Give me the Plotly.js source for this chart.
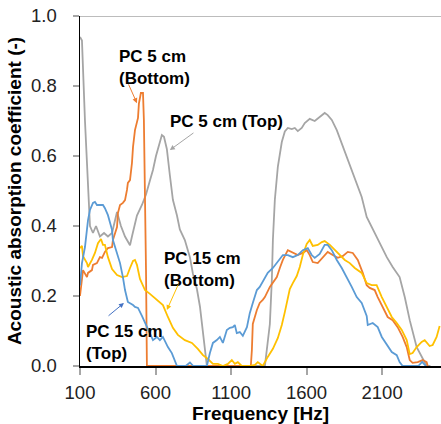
<!DOCTYPE html>
<html>
<head>
<meta charset="utf-8">
<script src="https://cdn.plot.ly/plotly-3.0.1.min.js"></script>
<style>html,body{margin:0;padding:0;background:#fff;}#chart{width:441px;height:424px;}</style>
</head>
<body>
<div id="chart"></div>
<script>
// PC 5 cm (Top) - gray
const topFreq5 = [100,113,133,153,166,186,206,232,259,285,312,345,371,398,431,444,477,510,537,563,583,603,629,642,656,675,695,715,742,761,794,828,847,874,894,914,940,1000,1100,1200,1300,1324,1357,1370,1377,1390,1410,1436,1456,1476,1502,1522,1542,1568,1588,1621,1654,1687,1720,1740,1767,1800,1833,1866,1899,1932,1965,1998,2031,2064,2084,2131,2170,2216,2250,2283,2329,2362,2382,2395,2420];
const topVal5  = [0.94,0.93,0.70,0.50,0.40,0.38,0.40,0.37,0.38,0.37,0.38,0.44,0.40,0.37,0.345,0.37,0.43,0.46,0.49,0.53,0.56,0.60,0.645,0.66,0.655,0.62,0.545,0.475,0.43,0.39,0.36,0.31,0.265,0.22,0.17,0.10,0,0,0,0,0,0,0.12,0.245,0.36,0.475,0.57,0.64,0.67,0.68,0.677,0.68,0.671,0.68,0.694,0.706,0.70,0.711,0.723,0.717,0.703,0.674,0.637,0.597,0.56,0.523,0.483,0.426,0.397,0.369,0.351,0.311,0.283,0.254,0.197,0.131,0.054,0.026,0.009,0,0];

// PC 5 cm (Bottom) - orange
const botFreq5 = [100,113,120,146,153,179,186,212,232,246,265,285,312,318,331,345,351,365,384,398,411,417,431,444,451,464,484,490,503,517,523,530,537,543,700,900,1100,1231,1238,1244,1271,1290,1310,1324,1357,1377,1403,1423,1443,1476,1509,1542,1575,1601,1621,1641,1674,1707,1740,1773,1806,1839,1873,1906,1939,1972,1998,2018,2051,2071,2098,2117,2137,2170,2203,2236,2263,2283,2302,2336,2369,2395,2402];
const botVal5  = [0.20,0.254,0.274,0.254,0.266,0.274,0.289,0.294,0.311,0.309,0.326,0.337,0.34,0.36,0.38,0.397,0.437,0.46,0.466,0.474,0.503,0.523,0.531,0.58,0.626,0.674,0.709,0.75,0.78,0.78,0.703,0.511,0.274,0,0,0,0,0,0.046,0.12,0.16,0.18,0.189,0.197,0.226,0.237,0.254,0.28,0.303,0.331,0.323,0.317,0.323,0.331,0.317,0.297,0.294,0.309,0.326,0.317,0.309,0.314,0.326,0.323,0.303,0.266,0.231,0.223,0.217,0.197,0.174,0.154,0.14,0.131,0.111,0.083,0.054,0.017,0.009,0.011,0.017,0.011,0];

// PC 15 cm (Bottom) - yellow
const botFreq15 = [100,113,120,146,153,179,199,219,239,252,265,285,312,345,378,411,431,451,464,477,497,530,563,596,629,649,682,715,748,794,841,880,914,947,980,1013,1046,1079,1105,1125,1145,1171,1224,1258,1277,1310,1343,1377,1410,1436,1456,1476,1489,1509,1535,1555,1575,1601,1621,1641,1674,1701,1720,1754,1787,1820,1853,1886,1919,1965,1998,2031,2064,2098,2131,2164,2197,2230,2263,2283,2302,2329,2362,2382,2415,2435,2461,2481];
const botVal15  = [0.337,0.343,0.314,0.294,0.283,0.303,0.323,0.351,0.363,0.346,0.346,0.311,0.277,0.26,0.254,0.257,0.28,0.30,0.303,0.289,0.249,0.217,0.206,0.194,0.183,0.174,0.14,0.109,0.089,0.074,0.066,0.049,0.031,0.02,0.006,0.006,0,0.006,0.017,0.006,0.011,0,0,0.003,0.011,0,0.026,0.049,0.08,0.117,0.154,0.197,0.22,0.237,0.257,0.283,0.317,0.349,0.36,0.343,0.346,0.354,0.357,0.346,0.331,0.317,0.303,0.294,0.28,0.266,0.237,0.231,0.231,0.197,0.166,0.14,0.123,0.103,0.074,0.034,0.037,0.054,0.069,0.074,0.057,0.06,0.083,0.114];

// PC 15 cm (Top) - blue
const topFreq15 = [100,113,133,146,153,166,186,199,212,232,252,265,285,298,312,318,345,365,384,398,417,431,451,464,484,510,530,563,583,609,629,649,682,708,728,742,800,828,850,940,960,980,1006,1026,1046,1072,1092,1112,1125,1138,1158,1178,1205,1224,1244,1271,1290,1324,1343,1377,1410,1443,1476,1509,1542,1575,1608,1634,1654,1687,1720,1740,1767,1800,1833,1866,1899,1932,1965,1998,2005,2038,2071,2098,2131,2164,2197,2216,2236,2340,2365,2390];
const topVal15  = [0.23,0.294,0.34,0.389,0.417,0.446,0.466,0.469,0.46,0.46,0.46,0.451,0.431,0.411,0.389,0.36,0.323,0.294,0.254,0.217,0.183,0.18,0.174,0.169,0.166,0.143,0.123,0.094,0.074,0.083,0.074,0.083,0.054,0.037,0.017,0,0,0.01,0,0,0.037,0.066,0.074,0.083,0.066,0.103,0.109,0.111,0.117,0.094,0.097,0.086,0.111,0.151,0.18,0.217,0.226,0.254,0.266,0.28,0.297,0.317,0.317,0.311,0.317,0.331,0.337,0.317,0.309,0.32,0.346,0.346,0.331,0.303,0.28,0.254,0.226,0.197,0.18,0.143,0.117,0.123,0.111,0.083,0.06,0.04,0.031,0.011,0,0,0.012,0];

const seriesNames = ['PC 5 cm (Top)','PC 5 cm (Bottom)','PC 15 cm (Bottom)','PC 15 cm (Top)'];
const xTickVals = [100,600,1100,1600,2100];
const yTickVals = [0,0.2,0.4,0.6,0.8,1.0];

const FONT = '"Liberation Sans", Arial, sans-serif';
const lw = 1.8;
const traces = [
  {x: topFreq5, y: topVal5, name: seriesNames[0], color: '#a5a5a5'},
  {x: botFreq5, y: botVal5, name: seriesNames[1], color: '#ed7d31'},
  {x: botFreq15, y: botVal15, name: seriesNames[2], color: '#ffc000'},
  {x: topFreq15, y: topVal15, name: seriesNames[3], color: '#5b9bd5'}
].map(s => ({x: s.x, y: s.y, name: s.name, type: 'scatter', mode: 'lines',
  line: {color: s.color, width: lw}, hoverinfo: 'skip'}));

function label(text, x, y) {
  return {text: '<b>' + text.replace('<br>', '</b><br><b>') + '</b>', x: x, y: y, xref: 'x', yref: 'y', xanchor: 'left', yanchor: 'middle',
    align: 'left', showarrow: false, font: {family: FONT, size: 17, color: '#000'}};
}
function arrow(ax, ay, x, y, color) {
  return {text: '', x: x, y: y, ax: ax, ay: ay, axref: 'x', ayref: 'y', xref: 'x', yref: 'y',
    showarrow: true, arrowhead: 2, arrowsize: 1, arrowwidth: 1, arrowcolor: color};
}

const layout = {
  width: 441, height: 424,
  margin: {l: 80, r: 0, t: 16, b: 58},
  paper_bgcolor: '#fff', plot_bgcolor: '#fff',
  showlegend: false,
  font: {family: FONT, size: 18, color: '#222'},
  xaxis: {
    range: [100, 2490], tickvals: xTickVals, ticktext: xTickVals.map(String),
    showgrid: false, zeroline: false,
    showline: true, linecolor: '#000', linewidth: 1.5,
    ticks: 'outside', ticklen: 7, tickwidth: 2, tickcolor: '#a6a6a6',
    ticklabelstandoff: 2,
    tickfont: {family: FONT, size: 18.5, color: '#222'},
    title: {text: '<b>Frequency [Hz]</b>', font: {family: FONT, size: 19, color: '#000'}, standoff: 5}
  },
  yaxis: {
    range: [0, 1], tickvals: yTickVals, ticktext: yTickVals.map(v => v.toFixed(1)),
    showgrid: false, zeroline: false,
    showline: true, linecolor: '#000', linewidth: 1.5,
    ticks: 'outside', ticklen: 6, tickwidth: 1.5, tickcolor: '#a6a6a6',
    ticklabelstandoff: 12,
    tickfont: {family: FONT, size: 18.5, color: '#222'},
    title: {text: '<b>Acoustic absorption coefficient (-)</b>', font: {family: FONT, size: 19, color: '#000'}, standoff: 4}
  },
  shapes: [
    {type: 'line', xref: 'paper', yref: 'y', x0: 0, x1: 1, y0: 1, y1: 1, line: {color: '#a6a6a6', width: 1.5}}
  ],
  annotations: [
    label('PC 5 cm<br>(Bottom)', 345, 0.853),
    label('PC 5 cm (Top)', 682, 0.70),
    label('PC 15 cm<br>(Bottom)', 642, 0.276),
    label('PC 15 cm<br>(Top)', 126, 0.067),
    arrow(417, 0.809, 477, 0.751, '#ed7d31'),
    arrow(861, 0.669, 695, 0.617, '#a5a5a5'),
    arrow(755, 0.237, 675, 0.16, '#ffc000'),
    arrow(279, 0.14, 391, 0.18, '#4472c4')
  ]
};

Plotly.newPlot('chart', traces, layout, {staticPlot: true, displayModeBar: false});
</script>
</body>
</html>
